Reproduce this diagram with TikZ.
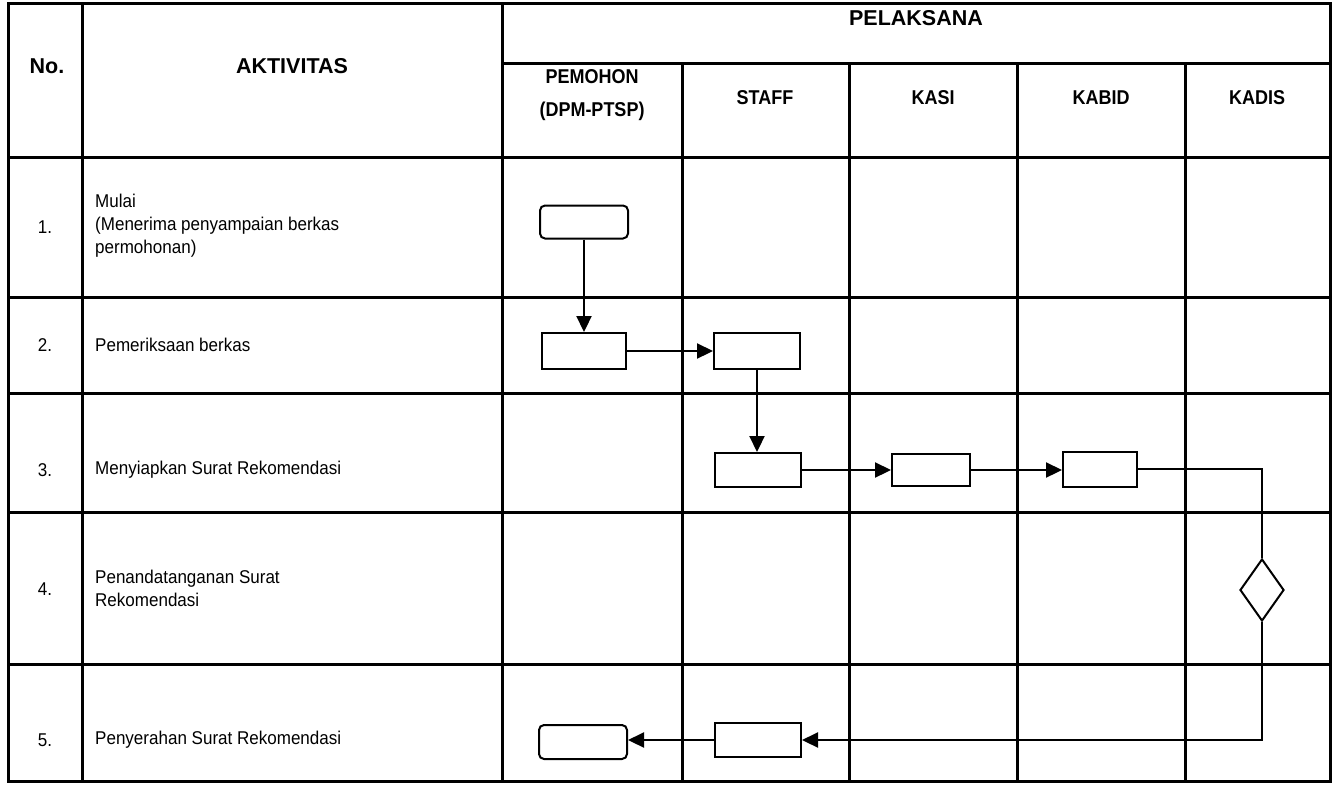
\documentclass[tikz,border=0pt]{standalone}
\usepackage{fontspec}
\setmainfont{Liberation Sans}
\newfontfamily\narrowbody[FakeStretch=0.92]{Liberation Sans}
\newfontfamily\narrowhead[FakeStretch=0.9]{Liberation Sans}
\usetikzlibrary{shapes.geometric,arrows.meta}
\tikzset{
  gridline/.style={line width=3pt},
  box/.style={draw, line width=2pt, minimum width=86pt, minimum height=34pt, inner sep=0pt},
  rbox/.style={box, rounded corners=5pt},
  conn/.style={line width=2.2pt},
  arr/.style={conn, -{Triangle[length=16pt,width=15pt]}},
  dec/.style={draw, diamond, line width=2pt, minimum width=44pt, minimum height=62pt, inner sep=0pt},
  body/.style={font=\narrowbody\fontsize{18.5}{23}\selectfont, anchor=west, align=left, inner sep=0pt},
  num/.style={font=\narrowbody\fontsize{18.5}{23}\selectfont, inner sep=0pt},
  hdr/.style={font=\bfseries\fontsize{21.5}{25}\selectfont, inner sep=0pt},
  sub/.style={font=\narrowhead\bfseries\fontsize{20}{33}\selectfont, align=center, inner sep=0pt},
}
\begin{document}
\begin{tikzpicture}[x=1pt, y=-1pt]
\useasboundingbox (0,0) rectangle (1335,785);
% grid
\draw[gridline] (8,3) rectangle (1330,781);
\foreach \x in {82,502} \draw[gridline] (\x,3) -- (\x,781);
\foreach \x in {682,849,1017,1185} \draw[gridline] (\x,63) -- (\x,781);
\draw[gridline] (502,63) -- (1330,63);
\foreach \y in {157,297,393,512,664} \draw[gridline] (8,\y) -- (1330,\y);
% headers
\node[hdr] (hno) at (47,66) {No.};
\node[hdr] (hakt) at (292,66) {AKTIVITAS};
\node[hdr] (hpel) at (916,18) {PELAKSANA};
\node[sub] (hpem) at (592,95) {PEMOHON\\(DPM-PTSP)};
\node[sub] (hsta) at (765,98) {STAFF};
\node[sub] (hkas) at (933,98) {KASI};
\node[sub] (hkab) at (1101,98) {KABID};
\node[sub] (hkad) at (1257,98) {KADIS};
% rows
\node[num] (n1) at (45,227) {1.};
\node[num] (n2) at (45,345) {2.};
\node[num] (n3) at (45,470) {3.};
\node[num] (n4) at (45,589) {4.};
\node[num] (n5) at (45,740) {5.};
\node[body] (a1) at (95,226) {Mulai\\(Menerima penyampaian berkas\\permohonan)};
\node[body] (a2) at (95,345) {Pemeriksaan berkas};
\node[body] (a3) at (95,470) {Menyiapkan Surat Rekomendasi};
\node[body] (a4) at (95,588) {Penandatanganan Surat\\Rekomendasi};
\node[body] (a5) at (95,740) {Penyerahan Surat Rekomendasi};
% flow nodes
\node[rbox, minimum width=88pt, minimum height=33pt] (start) at (584,222) {};
\node[box, minimum width=84pt, minimum height=36pt] (p2) at (584,351) {};
\node[box, minimum height=36pt] (s2) at (757,351) {};
\node[box] (s3) at (758,470) {};
\node[box, minimum width=78pt, minimum height=32pt] (k3) at (931,470) {};
\node[box, minimum width=74pt, minimum height=35pt] (b3) at (1100,469) {};
\node[dec] (d4) at (1262,590) {};
\node[box] (s5) at (758,740) {};
\node[rbox, minimum width=88pt] (e5) at (583,742) {};
% connectors
\draw[arr] (start.south) -- (p2.north);
\draw[arr] (p2.east) -- (s2.west);
\draw[arr] (s2.south) -- (s2.south |- s3.north);
\draw[arr] (s3.east) -- (k3.west);
\draw[arr] (k3.east) -- (k3.east -| b3.west);
\draw[conn] (b3.east) -| (d4.north);
\draw[arr] (d4.south) |- (s5.east);
\draw[arr] (s5.west) -- (s5.west -| e5.east);
\end{tikzpicture}
\end{document}
